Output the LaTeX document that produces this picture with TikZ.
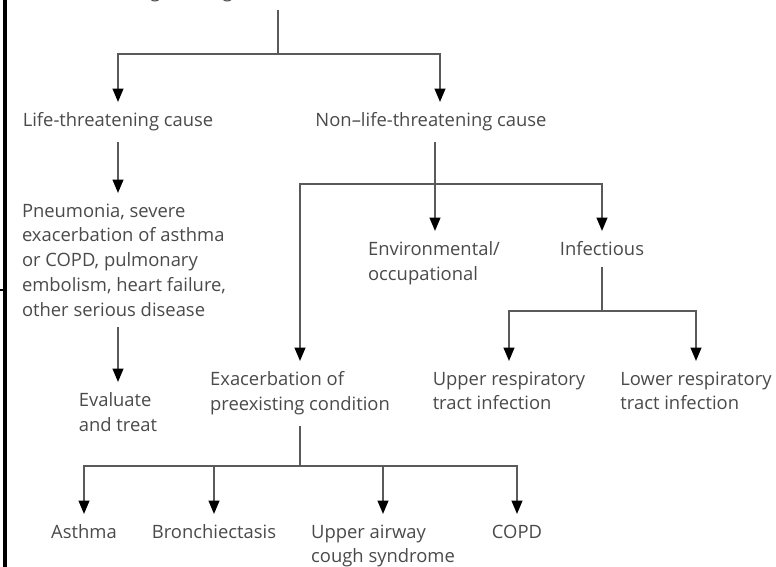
\documentclass[tikz,border=0pt]{standalone}
\usepackage{fontspec}
\setmainfont{Open Sans}
\usepackage{xcolor}
\usepackage{tikz}
\usetikzlibrary{arrows.meta,positioning}

\definecolor{inkgray}{HTML}{4A4A4A}
\definecolor{linegray}{HTML}{5A5A5A}

\begin{document}
\begin{tikzpicture}
  [
    x=0.75pt,y=-0.75pt,
    label text/.style={anchor=north,align=left,inner sep=0pt,outer sep=8pt,text=inkgray,
      font=\fontsize{13.8}{18.6}\selectfont},
    link/.style={draw=linegray,line width=1.5pt},
    arrow/.style={link,-{Triangle[length=10pt,width=8pt,color=black]}}
  ]
  \useasboundingbox (0,0) rectangle (776,567);
  % frame edge on the left
  \draw[line width=2.4pt] (5,0) -- (5,567);
  \draw[line width=1pt] (0,290) -- (5,290);

  \node[label text,anchor=base,outer sep=0pt] at (252,-2) (cough) {Cough lasting less than 3 weeks};
  \node[label text] at (118,102) (life) {Life-threatening cause};
  \node[label text] at (431,102) (nonlife) {Non--life-threatening cause};
  \node[label text] at (124,193) (pneu) {Pneumonia, severe\\exacerbation of asthma\\or COPD, pulmonary\\embolism, heart failure,\\other serious disease};
  \node[label text] at (118,382) (eval) {Evaluate\\and treat};
  \node[label text] at (434,231) (env) {Environmental/\\occupational};
  \node[label text] at (602,231) (inf) {Infectious};
  \node[label text] at (300,361) (exac) {Exacerbation of\\preexisting condition};
  \node[label text] at (509,361) (upper) {Upper respiratory\\tract infection};
  \node[label text] at (696,361) (lower) {Lower respiratory\\tract infection};
  \node[label text] at (84,514) (asthma) {Asthma};
  \node[label text] at (214,514) (bronch) {Bronchiectasis};
  \node[label text] at (383,514) (uacs) {Upper airway\\cough syndrome};
  \node[label text] at (517,514) (copd) {COPD};

  \coordinate (j top) at (278,54);
  \coordinate (j non) at (435,184);
  \coordinate (j inf) at (602,311);
  \coordinate (j exac) at (300,466);

  \draw[link] (j top |- 0,10) -- (j top);
  \draw[arrow] (j top) -| (life.north);
  \draw[arrow] (j top) -| (440,102);
  \draw[arrow] (life.south) -- (life.south |- pneu.north);
  \draw[arrow] (eval.north |- pneu.south) -- (eval.north);

  \draw[arrow] (j non |- nonlife.south) -- (j non |- env.north);
  \draw[arrow] (j non) -| (exac.north);
  \draw[arrow] (j non) -| (inf.north);

  \draw[link] (inf.south) -- (j inf);
  \draw[arrow] (j inf) -| (upper.north);
  \draw[arrow] (j inf) -| (lower.north);

  \draw[link] (exac.south) -- (j exac);
  \foreach \leaf in {asthma,bronch,uacs,copd}
    \draw[arrow] (j exac) -| (\leaf.north);
\end{tikzpicture}
\end{document}
